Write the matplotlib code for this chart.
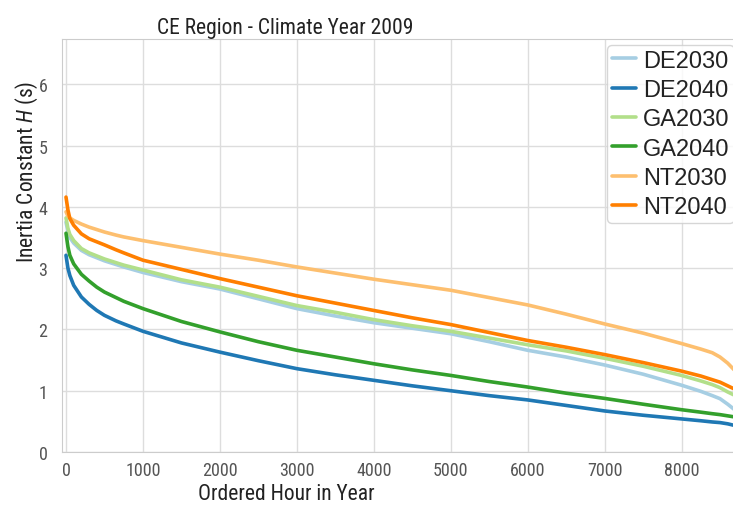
import matplotlib
matplotlib.use("Agg")
import matplotlib.pyplot as plt
from matplotlib import font_manager
import seaborn as sns

hours = [0, 25, 50, 100, 200, 300, 400, 500, 650, 750, 1000, 1500, 2000, 2500, 3000, 3500,
         4000, 4500, 5000, 5500, 6000, 6500, 7000, 7500, 8000, 8250, 8400, 8500, 8600, 8700, 8760]

de2030 = [3.75, 3.60, 3.50, 3.41, 3.29, 3.22, 3.17, 3.12, 3.06, 3.02, 2.93, 2.78, 2.66, 2.50, 2.34, 2.22,
          2.11, 2.02, 1.93, 1.80, 1.66, 1.55, 1.42, 1.27, 1.09, 0.99, 0.92, 0.87, 0.78, 0.68, 0.62]
de2040 = [3.21, 3.00, 2.88, 2.72, 2.53, 2.41, 2.31, 2.23, 2.14, 2.09, 1.97, 1.78, 1.63, 1.49, 1.36, 1.26,
          1.17, 1.08, 1.00, 0.92, 0.85, 0.76, 0.67, 0.60, 0.54, 0.51, 0.49, 0.48, 0.46, 0.43, 0.40]
ga2030 = [3.82, 3.65, 3.55, 3.45, 3.32, 3.25, 3.20, 3.15, 3.09, 3.05, 2.97, 2.81, 2.69, 2.54, 2.39, 2.28,
          2.16, 2.06, 1.97, 1.86, 1.75, 1.65, 1.53, 1.40, 1.25, 1.16, 1.10, 1.05, 0.98, 0.92, 0.85]
ga2040 = [3.57, 3.35, 3.21, 3.07, 2.90, 2.79, 2.69, 2.61, 2.52, 2.46, 2.34, 2.13, 1.96, 1.80, 1.66, 1.55,
          1.44, 1.34, 1.25, 1.15, 1.06, 0.96, 0.875, 0.78, 0.69, 0.65, 0.625, 0.61, 0.59, 0.57, 0.55]
nt2030 = [3.92, 3.85, 3.82, 3.78, 3.72, 3.67, 3.63, 3.59, 3.54, 3.51, 3.45, 3.34, 3.23, 3.13, 3.02, 2.92,
          2.82, 2.73, 2.64, 2.52, 2.40, 2.25, 2.09, 1.94, 1.77, 1.68, 1.62, 1.55, 1.45, 1.32, 1.20]
nt2040 = [4.16, 3.95, 3.81, 3.70, 3.56, 3.48, 3.43, 3.38, 3.30, 3.25, 3.13, 2.98, 2.83, 2.69, 2.55, 2.43,
          2.31, 2.19, 2.08, 1.95, 1.82, 1.71, 1.59, 1.46, 1.32, 1.24, 1.18, 1.14, 1.08, 1.02, 0.98]

labels = ["DE2030", "DE2040", "GA2030", "GA2040", "NT2030", "NT2040"]
series = [de2030, de2040, ga2030, ga2040, nt2030, nt2040]
xticks = [0, 1000, 2000, 3000, 4000, 5000, 6000, 7000, 8000]
yticks = [0, 1, 2, 3, 4, 5, 6]

sns.set_style("whitegrid")

# look for a condensed sans font; otherwise use Liberation Sans with compromise sizes
names = {f.name for f in font_manager.fontManager.ttflist}
narrow = None
for cand in ['Liberation Sans Narrow', 'Arial Narrow', 'Roboto Condensed',
             'Open Sans Condensed', 'Noto Sans Condensed']:
    if cand in names:
        narrow = cand
        break

plt.rcParams['font.family'] = ['Liberation Sans', 'DejaVu Sans']
if narrow:
    nfam = [narrow, 'Liberation Sans', 'DejaVu Sans']
    tick_fs, lab_fs, title_fs = 13, 15.5, 15.5
else:
    nfam = ['Liberation Sans', 'DejaVu Sans']
    tick_fs, lab_fs, title_fs = 11.5, 14, 13.5
plt.rcParams['mathtext.fontset'] = 'custom'
plt.rcParams['mathtext.it'] = nfam[0] + ':italic'
plt.rcParams['mathtext.rm'] = nfam[0]

pal = sns.color_palette("Paired", 8)
colors = [pal[0], pal[1], pal[2], pal[3], pal[6], pal[7]]

fig = plt.figure(figsize=(7.33, 5.06), dpi=100)
ax_l, ax_r, ax_b, ax_t = 62, 740, 453, 40
ax = fig.add_axes([ax_l / 733, (506 - ax_b) / 506, (ax_r - ax_l) / 733, (ax_b - ax_t) / 506])

for lab, ys, c in zip(labels, series, colors):
    ax.plot(hours, ys, color=c, lw=2.6, label=lab)

ax.set_xlim(-52, 8760)
ax.set_ylim(0, 6.74)
ax.set_xticks(xticks)
ax.set_yticks(yticks)
ax.tick_params(axis='both', labelsize=tick_fs, colors='#555555')
ax.tick_params(axis='x', pad=3)
ax.tick_params(axis='y', pad=7)
for t in ax.get_xticklabels() + ax.get_yticklabels():
    t.set_family(nfam)
ax.grid(True, color='#dddddd', lw=1.0)
for s in ax.spines.values():
    s.set_color('#cccccc')

W = ax_r - ax_l
H = ax_b - ax_t
ax.set_title("CE Region - Climate Year 2009", fontsize=title_fs, color='#222222',
             x=(285 - ax_l) / W, pad=4.5, family=nfam)
ax.set_xlabel("Ordered Hour in Year", fontsize=lab_fs, color='#222222', family=nfam)
ax.xaxis.set_label_coords((286 - ax_l) / W, -(484 - ax_b) / H)
ax.set_ylabel("Inertia Constant $H$ (s)", fontsize=lab_fs, color='#222222', family=nfam)
ax.yaxis.set_label_coords(-(ax_l - 40) / W, (ax_b - 172) / H)

leg = ax.legend(loc='upper right', fontsize=17, handlelength=1.0, handletextpad=0.3,
                labelspacing=0.31, borderpad=0.2, borderaxespad=0.25, frameon=True)
leg.get_frame().set_edgecolor('#cccccc')
leg.get_frame().set_linewidth(1.0)
for t in leg.get_texts():
    t.set_color('#222222')

fig.savefig("out.png", dpi=100)
